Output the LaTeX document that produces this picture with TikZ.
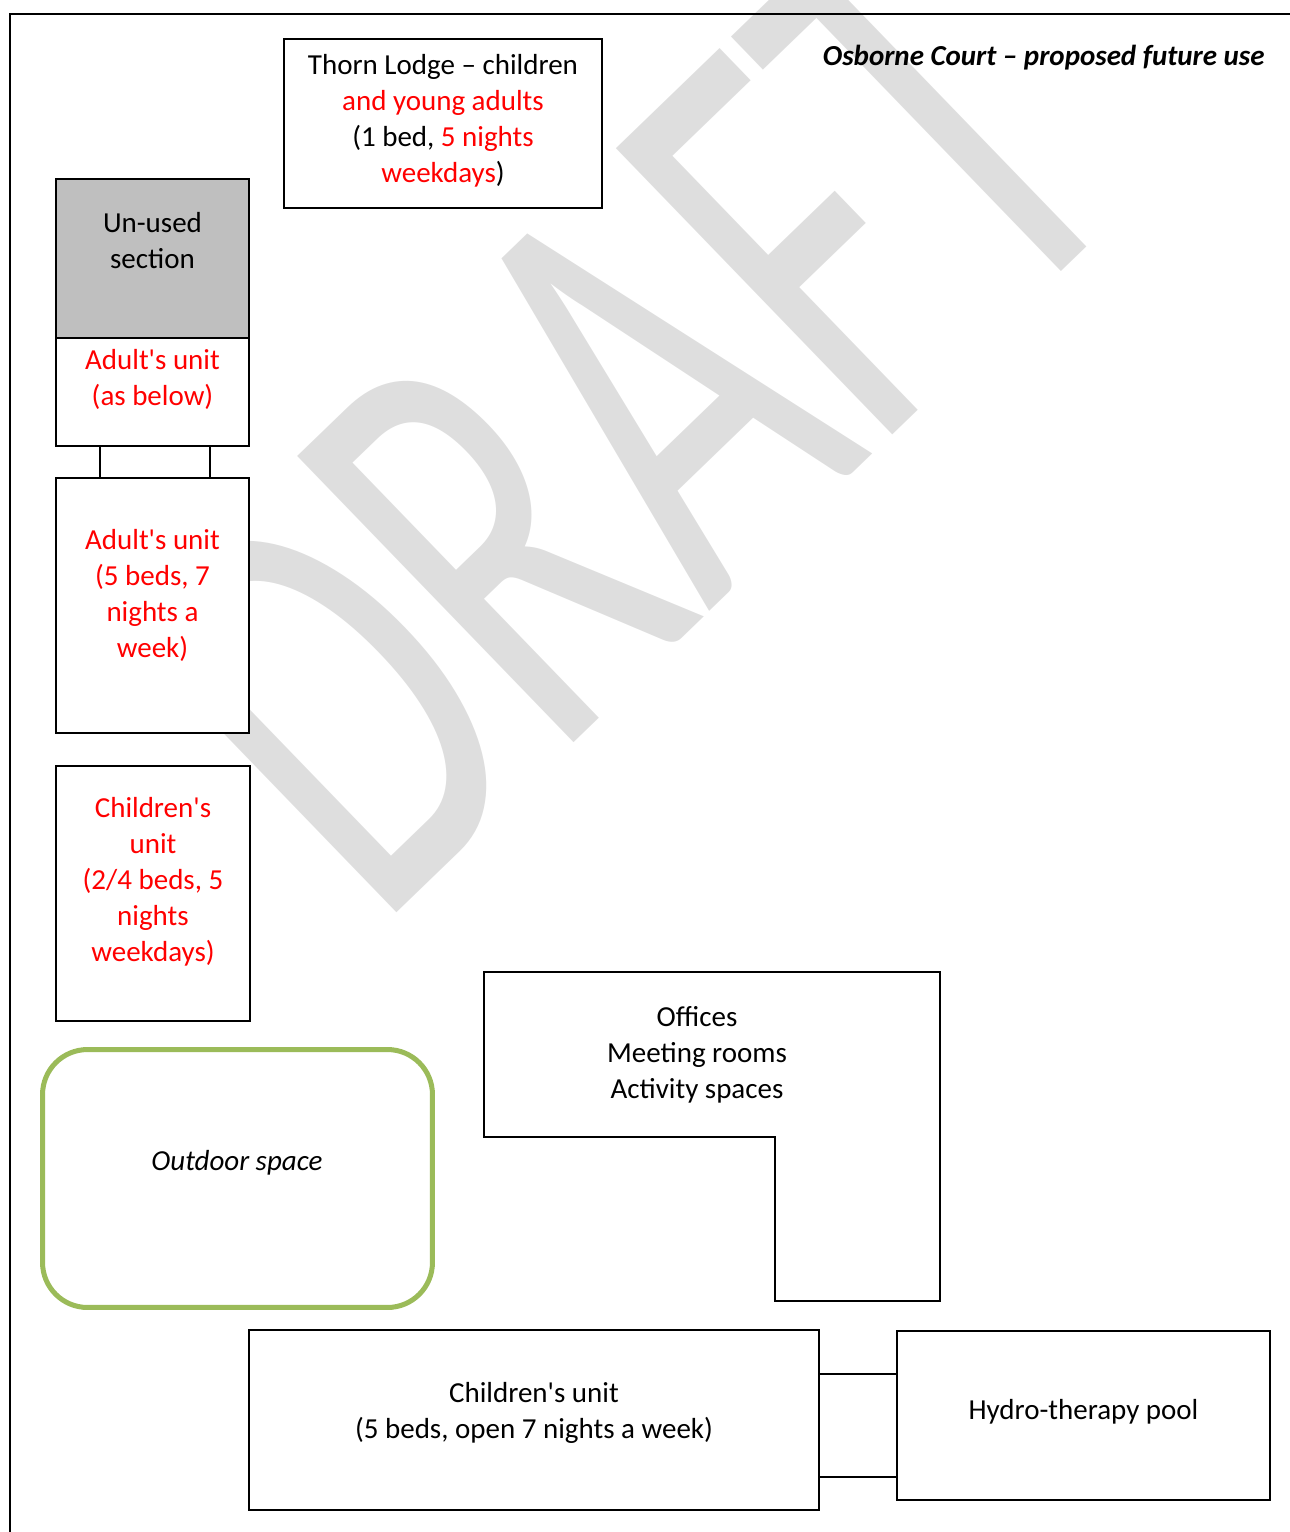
\documentclass[tikz,border=0pt]{standalone}
\usepackage{fontspec}
\setmainfont{Carlito}
\usepackage{tikz}
\usetikzlibrary{positioning}
\definecolor{draftgrey}{RGB}{222,222,222}
\definecolor{unusedgrey}{RGB}{191,191,191}
\definecolor{lawngreen}{RGB}{155,187,89}
\newcommand{\apos}{\textquotesingle}

\tikzset{
  room/.style={draw, line width=1.1pt, fill=white, inner sep=0pt, outer sep=0pt},
  roomtext/.style={align=center, inner sep=0pt, font=\fontsize{16.5}{20.5}\selectfont},
  link/.style={line width=1.1pt},
}

\begin{document}
\begin{tikzpicture}[x=0.02cm, y=0.02cm]
          \useasboundingbox (0,0) rectangle (1290,-1532);

          %Watermark
          \begin{scope}[shift={(761,-562)}]
            \node[text=draftgrey, anchor=base, rotate=44, xscale=0.64, inner sep=0pt,
                  font=\fontsize{353}{400}\selectfont] (draft) at (0,0) {DRAFT};
          \end{scope}

          %Frame
          \draw [line width=1.7pt] (1290,-14) -- (10,-14) -- (10,-1532);

          \node [anchor=base east, inner sep=0pt, font=\fontsize{16.5}{20.5}\selectfont\bfseries\itshape] (title) at (1265,-65) {Osborne Court – proposed future use};

          %Boxes left column
          \node [room, minimum width=6.36cm, minimum height=3.38cm] (thorn) at (443,-123.5) {};
          \node [roomtext] (thorntext) at (443,-121) {Thorn Lodge – children\\ \textcolor{red}{and young adults}\\ (1 bed, \textcolor{red}{5 nights}\\ \textcolor{red}{weekdays})};

          \node [room, fill=unusedgrey, minimum width=3.86cm, minimum height=3.18cm] (unused) at (152.5,-258.5) {};
          \node [roomtext] (unusedtext) at (152.5,-241) {Un-used\\ section};

          \node [room, minimum width=3.86cm, minimum height=2.16cm] (adultbelow) at (152.5,-392) {};
          \node [roomtext, text=red] (adultbelowtext) at (152.5,-379) {Adult\apos s unit\\ (as below)};

          \node [room, minimum width=3.86cm, minimum height=5.1cm] (adult) at (152.5,-605.5) {};
          \node [roomtext, text=red] (adulttext) at (152.5,-595.5) {Adult\apos s unit\\ (5 beds, 7\\ nights a\\ week)};

          \node [room, minimum width=3.88cm, minimum height=5.1cm] (kidsunit) at (153,-893.5) {};
          \node [roomtext, text=red] (kidsunittext) at (153,-881.5) {Children\apos s\\ unit\\ (2/4 beds, 5\\ nights\\ weekdays)};

          \node [room, draw=lawngreen, line width=2.85pt, rounded corners=0.9cm, minimum width=7.8cm, minimum height=5.16cm] (outdoor) at (237.5,-1178.5) {};
          \node [roomtext, font=\fontsize{16.5}{20.5}\selectfont\itshape] (outdoortext) at (237,-1163) {Outdoor space};

          %Offices (L shape)
          \draw [room] (484,-972) -- (940,-972) -- (940,-1301) -- (775,-1301) -- (775,-1137) -- (484,-1137) -- cycle;
          \node [roomtext] (officestext) at (697,-1054.5) {Offices\\ Meeting rooms\\ Activity spaces};

          %Bottom row
          \node [room, minimum width=11.4cm, minimum height=3.6cm] (kids) at (534,-1420) {};
          \node [roomtext] (kidstext) at (534,-1412.5) {Children\apos s unit\\ (5 beds, open 7 nights a week)};

          \node [room, minimum width=7.46cm, minimum height=3.38cm] (pool) at (1083.5,-1415.5) {};
          \node [roomtext] (pooltext) at (1083.5,-1412) {Hydro-therapy pool};

          %Links
          \draw [link] (adultbelow.south -| 100,0) -- (adult.north -| 100,0);
          \draw [link] (adultbelow.south -| 210,0) -- (adult.north -| 210,0);

          \draw [link] (kids.east |- 0,-1374) -- (pool.west |- 0,-1374);
          \draw [link] (kids.east |- 0,-1477) -- (pool.west |- 0,-1477);
\end{tikzpicture}
\end{document}
